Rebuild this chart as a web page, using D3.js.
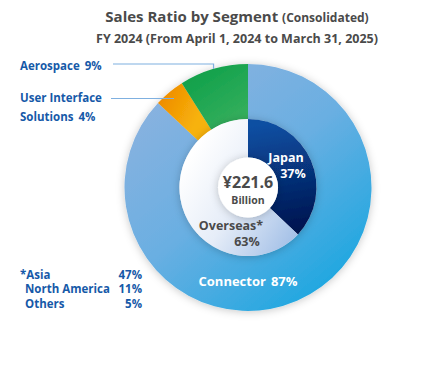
<!DOCTYPE html>
<html>
<head>
<meta charset="utf-8">
<script src="https://cdn.jsdelivr.net/npm/d3@7"></script>
<style>
  body { margin: 0; background: #fff; }
  svg { display: block; font-family: "Open Sans", sans-serif; font-weight: 700; }
</style>
</head>
<body>
<div id="chart"></div>
<script>
// segment split (outer ring)
const segments = ["Connector", "User Interface Solutions", "Aerospace"];
const segmentShares = [87, 4, 9];
// region split (inner ring)
const regions = ["Japan", "Overseas*"];
const regionShares = [37, 63];
// overseas breakdown (footnote)
const overseasNames = ["*Asia", "North America", "Others"];
const overseasShares = [47, 11, 5];
const totalSales = "¥221.6";

const width = 429, height = 373;
const cx = 248, cy = 187.5;
const rOuter = 123.5, rMid = 68.5, rHole = 30;

const svg = d3.select("#chart").append("svg")
  .attr("width", width).attr("height", height);

const defs = svg.append("defs");

// gradient coords are given relative to the chart centre
function grad(id, x1, y1, x2, y2, stops) {
  const g = defs.append("linearGradient").attr("id", id)
    .attr("gradientUnits", "userSpaceOnUse")
    .attr("x1", x1).attr("y1", y1).attr("x2", x2).attr("y2", y2);
  stops.forEach(([o, c]) => g.append("stop").attr("offset", o).attr("stop-color", c));
}
grad("g-conn", -90, -100, 90, 120, [[0, "#8ab2df"], [0.45, "#6aafe2"], [1, "#14a6e0"]]);
grad("g-ui", -90, -90, -50, -70, [[0, "#ee8a00"], [1, "#f7b20a"]]);
grad("g-aero", -50, -120, -10, -60, [[0, "#0fa04a"], [1, "#38b05e"]]);
grad("g-jp", 30, -65, 50, 60, [[0, "#0a4fa2"], [1, "#010a42"]]);
grad("g-ov", -65, -20, 55, 55, [[0, "#ffffff"], [0.45, "#e6edf8"], [1, "#9cbbe5"]]);

const shadow = defs.append("filter").attr("id", "shadow")
  .attr("x", "-20%").attr("y", "-20%").attr("width", "140%").attr("height", "140%");
shadow.append("feDropShadow").attr("dx", 0).attr("dy", 1)
  .attr("stdDeviation", 4).attr("flood-color", "#000").attr("flood-opacity", 0.22);

const pie = d3.pie().sort(null);
const outerArcs = pie(segmentShares);
const innerArcs = pie(regionShares);

const arcOuter = d3.arc().innerRadius(rMid).outerRadius(rOuter);
const arcInner = d3.arc().innerRadius(rHole).outerRadius(rMid);

const g = svg.append("g").attr("transform", `translate(${cx},${cy})`);
const segFills = ["url(#g-conn)", "url(#g-ui)", "url(#g-aero)"];
const regFills = ["url(#g-jp)", "url(#g-ov)"];

g.append("g").attr("filter", "url(#shadow)")
  .selectAll("path").data(outerArcs).join("path")
  .attr("d", arcOuter).attr("fill", (d, i) => segFills[i]);

g.append("g").attr("filter", "url(#shadow)")
  .selectAll("path").data(innerArcs).join("path")
  .attr("d", arcInner).attr("fill", (d, i) => regFills[i]);

g.append("circle").attr("r", rHole).attr("fill", "#fff").attr("filter", "url(#shadow)");

// title
svg.append("text").attr("x", 237).attr("y", 22).attr("text-anchor", "middle")
  .attr("fill", "#4a4a4a").attr("font-size", 15)
  .text("Sales Ratio by Segment ")
  .append("tspan").attr("font-size", 12).text("(Consolidated)");
svg.append("text").attr("x", 237).attr("y", 43).attr("text-anchor", "middle")
  .attr("fill", "#4a4a4a").attr("font-size", 12.5)
  .text("FY 2024 (From April 1, 2024 to March 31, 2025)");

// left labels with leaders
const blue = "#1659a8", leader = "#7fb0e0";
const pt = (a, r) => [cx + r * Math.sin(a), cy - r * Math.cos(a)];
const aero = outerArcs[2], ui = outerArcs[1];
const aeroP = pt((aero.startAngle + aero.endAngle) / 2, rOuter);
svg.append("path").attr("fill", "none").attr("stroke", leader).attr("stroke-width", 1.2)
  .attr("d", `M113,64H${aeroP[0]}V${aeroP[1]}`);
const uiP = pt((ui.startAngle + ui.endAngle) / 2, 116);
svg.append("path").attr("fill", "none").attr("stroke", leader).attr("stroke-width", 1.2)
  .attr("d", `M111,98.5H${uiP[0]}`);

const lab = svg.append("g").attr("fill", blue).attr("font-size", 11.5);
lab.append("text").attr("x", 20).attr("y", 69.5).text("Aerospace")
  .append("tspan").attr("dx", 5).text(segmentShares[2] + "%");
lab.append("text").attr("x", 20).attr("y", 101.5).text("User Interface");
lab.append("text").attr("x", 20).attr("y", 121).text("Solutions")
  .append("tspan").attr("dx", 5).text(segmentShares[1] + "%");

// footnote
const foot = svg.append("g").attr("fill", blue).attr("font-size", 11.5);
overseasNames.forEach((n, i) => {
  const y = 278.5 + i * 14.5;
  foot.append("text").attr("x", i === 0 ? 20 : 25).attr("y", y).text(n);
  foot.append("text").attr("x", 142).attr("y", y).attr("text-anchor", "end").text(overseasShares[i] + "%");
});

// ring labels
svg.append("text").attr("x", cx).attr("y", 285.5).attr("text-anchor", "middle")
  .attr("fill", "#fff").attr("font-size", 13).text(segments[0])
  .append("tspan").attr("dx", 5).text(segmentShares[0] + "%");

const jp = svg.append("g").attr("fill", "#fff").attr("font-size", 12.5).attr("text-anchor", "middle");
jp.append("text").attr("x", 286).attr("y", 162).text(regions[0]);
jp.append("text").attr("x", 293).attr("y", 177.5).text(regionShares[0] + "%");

const ov = svg.append("g").attr("fill", "#4a4a4a").attr("font-size", 12.5).attr("text-anchor", "middle");
ov.append("text").attr("x", 231).attr("y", 229.5).text(regions[1]);
ov.append("text").attr("x", 247).attr("y", 245.5).text(regionShares[1] + "%");

svg.append("text").attr("x", cx).attr("y", 187.5).attr("text-anchor", "middle")
  .attr("fill", "#4a4a4a").attr("font-size", 16).text(totalSales);
svg.append("text").attr("x", cx).attr("y", 203.5).attr("text-anchor", "middle")
  .attr("fill", "#4a4a4a").attr("font-size", 10.5).text("Billion");
</script>
</body>
</html>
